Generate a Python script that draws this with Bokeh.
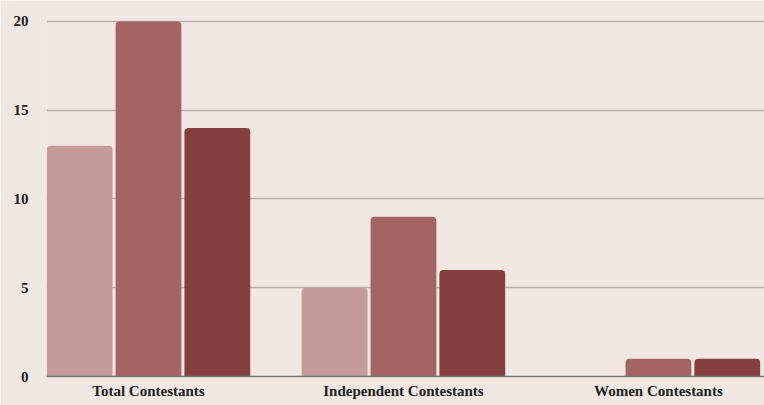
from bokeh.plotting import figure
from bokeh.models import ColumnDataSource, FixedTicker, Range1d
from bokeh.embed import file_html
from bokeh.resources import INLINE

categories = ["Total Contestants", "Independent Contestants", "Women Contestants"]
series_a = [13, 5, 0]
series_b = [20, 9, 1]
series_c = [14, 6, 1]
y_ticks = [0, 5, 10, 15, 20]

colors = ["#c49b99", "#a46464", "#843f3f"]
offsets = [-0.27, 0.0, 0.27]
bar_w = 0.258

BG = "#f0e7e3"
FONT = "Liberation Serif"

p = figure(width=764, height=405, output_backend="svg", toolbar_location=None,
           x_range=Range1d(-0.4, 2.416), y_range=Range1d(0, 20.28),
           min_border_left=46, min_border_right=0, min_border_top=16, min_border_bottom=29)
p.background_fill_color = BG
p.border_fill_color = BG
p.outline_line_color = None

xs = list(range(len(categories)))
for vals, off, col in zip([series_a, series_b, series_c], offsets, colors):
    src = ColumnDataSource(dict(x=[x + off for x in xs], top=vals))
    p.vbar(x="x", top="top", width=bar_w, bottom=0, source=src, fill_color=col,
           line_color=None, border_radius=(4, 4, 0, 0))

p.xgrid.grid_line_color = None
p.ygrid.grid_line_color = "#b8aeab"
p.ygrid.grid_line_width = 1.5
p.ygrid.ticker = FixedTicker(ticks=y_ticks)

p.yaxis.ticker = FixedTicker(ticks=y_ticks)
p.yaxis.axis_line_color = None
p.yaxis.major_tick_line_color = None
p.yaxis.minor_tick_line_color = None
p.yaxis.major_label_standoff = 12
p.yaxis.major_label_text_font = FONT
p.yaxis.major_label_text_font_style = "bold"
p.yaxis.major_label_text_font_size = "15px"
p.yaxis.major_label_text_color = "#222222"

p.xaxis.ticker = FixedTicker(ticks=xs)
p.xaxis.major_label_overrides = {i: c for i, c in enumerate(categories)}
p.xaxis.axis_line_color = "#777777"
p.xaxis.axis_line_width = 1.5
p.xaxis.major_tick_line_color = None
p.xaxis.minor_tick_line_color = None
p.xaxis.major_label_standoff = 0
p.xaxis.major_label_text_font = FONT
p.xaxis.major_label_text_font_style = "bold"
p.xaxis.major_label_text_font_size = "15px"
p.xaxis.major_label_text_color = "#222222"

open("out.html", "w").write(file_html(p, INLINE))
